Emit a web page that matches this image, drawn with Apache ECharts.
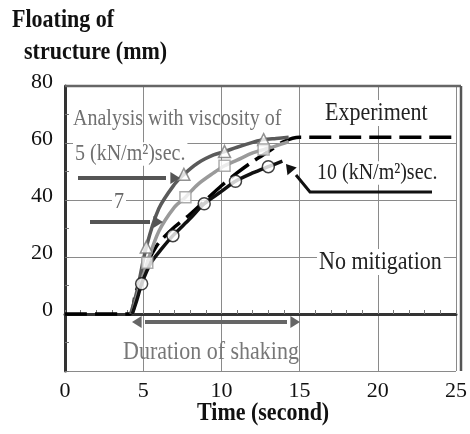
<!DOCTYPE html>
<html>
<head>
<meta charset="utf-8">
<script src="https://cdn.jsdelivr.net/npm/echarts@6/dist/echarts.min.js"></script>
<style>
  html, body { margin: 0; padding: 0; background: #fff; }
  #main { width: 470px; height: 434px; }
</style>
</head>
<body>
<div id="main"></div>
<script>
var chart = echarts.init(document.getElementById('main'));

// data (time in s, floating in mm)
var expTime = [0, 4.1, 4.5, 5, 5.5, 6, 7, 8, 9, 10, 11, 12, 13, 14, 15, 25];
var expVal  = [0, 0, 7, 15, 20.5, 25, 30.5, 35, 40, 45, 49.5, 53.5, 57, 60.5, 62, 62];

var v5Time = [4.2, 4.6, 5.2, 6, 7, 7.6, 8.5, 9.5, 10.2, 11, 12, 12.7, 13.5, 14.3];
var v5Val  = [0, 8, 23.5, 37, 45.5, 49, 53, 55.8, 57, 58.5, 60.2, 61.2, 61.6, 62];
var v5MarkTime = [5.2, 7.6, 10.2, 12.7];
var v5MarkVal  = [23.5, 49, 57, 61.2];

var v7Time = [4.3, 4.7, 5.26, 6, 7, 7.7, 8.5, 9.5, 10.2, 11, 12, 12.7, 13.5, 14.3];
var v7Val  = [0, 8, 18, 29, 37.5, 41, 45.5, 49.5, 52, 54, 56.5, 57.7, 59, 60.5];
var v7MarkTime = [5.26, 7.7, 10.2, 12.7];
var v7MarkVal  = [18, 41, 52, 57.7];

var v10Time = [4.3, 4.6, 4.9, 5.5, 6.2, 6.9, 8, 8.9, 10, 10.9, 12, 13, 13.9];
var v10Val  = [0, 5, 10.6, 18, 23, 27.5, 33.5, 38.7, 43, 46.6, 49.5, 51.7, 53.6];
var v10MarkTime = [4.9, 6.9, 8.9, 10.9, 13];
var v10MarkVal  = [10.6, 27.5, 38.7, 46.6, 51.7];

var xTicks = [0, 5, 10, 15, 20, 25];
var yTicks = [0, 20, 40, 60, 80];

function pairs(xs, ys) {
    var out = [];
    for (var i = 0; i < xs.length; i++) out.push([xs[i], ys[i]]);
    return out;
}

var serif = 'Liberation Serif';

function arrowHead(tipX, tipY, dx, dy, size, color) {
    // dx,dy = direction the arrow points
    var len = Math.sqrt(dx * dx + dy * dy);
    var ux = dx / len, uy = dy / len;
    var bx = tipX - ux * size * 1.6, by = tipY - uy * size * 1.6;
    return {
        type: 'polygon',
        shape: { points: [[tipX, tipY], [bx - uy * size, by + ux * size], [bx + uy * size, by - ux * size]] },
        style: { fill: color },
        z: 100
    };
}

// text is a bit taller than Liberation Serif in the scan, so stretch it a little
function txt(x, y, s, size, color, bg, weight) {
    return {
        type: 'text', x: x, y: y, z: 100, scaleY: 1.18,
        style: {
            text: s, fill: color, font: (weight || 'normal') + ' ' + size + 'px "' + serif + '"',
            textVerticalAlign: 'middle', backgroundColor: bg || null, padding: bg ? [0, 2] : 0
        }
    };
}

var option = {
    animation: false,
    grid: { left: 65, right: 9, top: 86, bottom: 63 },
    xAxis: {
        type: 'value', min: 0, max: 25, interval: 5,
        axisLine: { lineStyle: { color: '#333', width: 3 } },
        axisTick: { inside: true, length: 4, lineStyle: { color: '#777' } },
        minorTick: { show: true, splitNumber: 5, length: 4, lineStyle: { color: '#777' } },
        axisLabel: { color: '#111', fontSize: 22, fontFamily: serif, margin: 9,
            formatter: function (v) { return xTicks.indexOf(v) >= 0 ? String(v) : ''; } },
        splitLine: { lineStyle: { color: '#8a8a8a', width: 1 } }
    },
    yAxis: {
        type: 'value', min: -20, max: 80, interval: 20,
        axisLine: { show: true, lineStyle: { color: '#333', width: 3 } },
        axisTick: { inside: true, length: 4, lineStyle: { color: '#777' } },
        minorTick: { show: true, splitNumber: 2, length: 4, lineStyle: { color: '#777' } },
        axisLabel: { color: '#111', fontSize: 22, fontFamily: serif, margin: 12,
            verticalAlign: 'bottom', lineHeight: 8,
            formatter: function (v) { return yTicks.indexOf(v) >= 0 ? String(v) : ''; } },
        splitLine: { lineStyle: { color: '#8a8a8a', width: 1 } }
    },
    series: [
        {
            name: 'Experiment', type: 'line', data: pairs(expTime, expVal),
            showSymbol: false, smooth: 0.3, z: 3,
            lineStyle: { color: '#000', width: 3.5, type: [22, 8] }
        },
        {
            name: '5', type: 'line', data: pairs(v5Time, v5Val), showSymbol: false, smooth: 0.3, z: 4,
            lineStyle: { color: '#5a5a5a', width: 3.5 }
        },
        {
            name: '7', type: 'line', data: pairs(v7Time, v7Val), showSymbol: false, smooth: 0.3, z: 4,
            lineStyle: { color: '#9a9a9a', width: 3.5 }
        },
        {
            name: '10', type: 'line', data: pairs(v10Time, v10Val), showSymbol: false, smooth: 0.3, z: 4,
            lineStyle: { color: '#111', width: 3.5 }
        },
        {
            type: 'scatter', data: pairs(v5MarkTime, v5MarkVal), symbol: 'triangle', symbolSize: 12, z: 6,
            itemStyle: { color: '#fff', borderColor: '#777', borderWidth: 1.5 }
        },
        {
            type: 'scatter', data: pairs(v7MarkTime, v7MarkVal), symbol: 'rect', symbolSize: 11, z: 6,
            itemStyle: { color: '#fff', borderColor: '#999', borderWidth: 1.5 }
        },
        {
            type: 'scatter', data: pairs(v10MarkTime, v10MarkVal), symbol: 'circle', symbolSize: 12, z: 6,
            itemStyle: { color: '#fff', borderColor: '#111', borderWidth: 1.5 }
        }
    ],
    graphic: [
        // box top/right
        { type: 'line', shape: { x1: 65, y1: 86, x2: 461, y2: 86 }, style: { stroke: '#666', lineWidth: 2.5 }, z: 50 },
        { type: 'line', shape: { x1: 461, y1: 86, x2: 461, y2: 371 }, style: { stroke: '#555', lineWidth: 2.5 }, z: 50 },
        // axis titles
        txt(12, 20, 'Floating of', 22, '#111', null, 'bold'),
        txt(24, 52, 'structure (mm)', 22, '#111', null, 'bold'),
        txt(197, 413, 'Time (second)', 22, '#111', null, 'bold'),
        // annotations
        txt(73, 119, 'Analysis with viscosity of', 20, '#707070'),
        txt(73, 154, '5 (kN/m\u00b2)sec.', 20, '#707070', '#fff'),
        { type: 'line', shape: { x1: 78, y1: 178, x2: 166, y2: 178 }, style: { stroke: '#555', lineWidth: 4 }, z: 100 },
        arrowHead(180, 178, 1, 0, 6, '#555'),
        txt(112, 202, '7', 20, '#666', '#fff'),
        { type: 'line', shape: { x1: 90, y1: 222, x2: 150, y2: 222 }, style: { stroke: '#555', lineWidth: 4 }, z: 100 },
        arrowHead(163, 222, 1, 0, 6, '#555'),
        txt(323, 113, 'Experiment', 22, '#222', '#fff'),
        txt(315, 173, '10 (kN/m\u00b2)sec.', 20, '#222', '#fff'),
        { type: 'polyline', shape: { points: [[432, 192], [310, 192], [296, 175]] }, style: { stroke: '#111', lineWidth: 3, fill: null }, z: 100 },
        arrowHead(286, 164, -14, -17, 6, '#111'),
        txt(317, 262, 'No mitigation', 22, '#222', '#fff'),
        { type: 'line', shape: { x1: 145, y1: 322, x2: 287, y2: 322 }, style: { stroke: '#666', lineWidth: 4 }, z: 100 },
        arrowHead(132, 322, -1, 0, 6, '#666'),
        arrowHead(300, 322, 1, 0, 6, '#666'),
        txt(123, 352, 'Duration of shaking', 22, '#777')
    ]
};

chart.setOption(option);
</script>
</body>
</html>
